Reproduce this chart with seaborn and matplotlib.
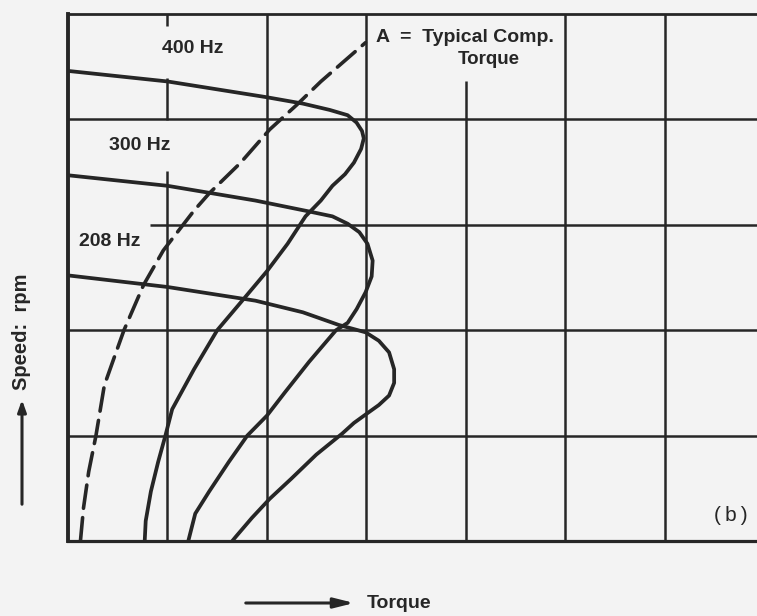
import matplotlib
matplotlib.use("Agg")
import matplotlib.pyplot as plt
import seaborn as sns
import pandas as pd

# Speed-torque curves of an inverter-driven compressor motor (grid units)
torque_400 = [0.0, 1.0, 2.0, 2.36, 2.63, 2.81, 2.90, 2.955, 2.973, 2.946, 2.874,
              2.784, 2.658, 2.541, 2.387, 2.207, 2.0, 1.733, 1.5, 1.267, 1.047,
              0.979, 0.906, 0.833, 0.781, 0.771]
speed_400 = [4.46, 4.36, 4.21, 4.15, 4.09, 4.04, 3.97, 3.89, 3.82, 3.72, 3.59,
             3.48, 3.37, 3.23, 3.08, 2.82, 2.56, 2.26, 2.0, 1.63, 1.25,
             1.0, 0.75, 0.47, 0.19, 0.0]

torque_300 = [0.0, 1.0, 1.884, 2.405, 2.658, 2.811, 2.928, 3.010, 3.062, 3.052,
              2.991, 2.901, 2.811, 2.694, 2.423, 2.180, 2.0, 1.802, 1.616, 1.419,
              1.279, 1.209]
speed_300 = [3.47, 3.37, 3.23, 3.13, 3.08, 3.01, 2.93, 2.82, 2.66, 2.51,
             2.36, 2.20, 2.07, 2.0, 1.70, 1.41, 1.19, 1.0, 0.75, 0.47,
             0.26, 0.0]

torque_200 = [0.0, 1.0, 1.884, 2.360, 2.721, 2.991, 3.124, 3.227, 3.278, 3.278,
              3.227, 3.124, 2.991, 2.874, 2.757, 2.496, 2.243, 2.027, 1.849, 1.686,
              1.651]
speed_200 = [2.52, 2.41, 2.28, 2.17, 2.05, 1.98, 1.90, 1.79, 1.63, 1.50,
             1.38, 1.29, 1.20, 1.12, 1.02, 0.82, 0.59, 0.40, 0.22, 0.04,
             0.0]

# Curve A: typical compressor load torque
torque_a = [0.125, 0.156, 0.208, 0.281, 0.365, 0.458, 0.5625, 0.76, 0.958, 1.267,
            1.419, 1.733, 2.027, 2.297, 2.541, 2.99]
speed_a = [0.0, 0.315, 0.657, 1.0, 1.476, 1.724, 2.0, 2.43, 2.757, 3.135,
           3.298, 3.587, 3.904, 4.136, 4.359, 4.728]

curve_labels = ["400 Hz", "300 Hz", "208 Hz"]
note_line1 = "A  =  Typical Comp."
note_line2 = "Torque"
x_label = "Torque"
y_label = "Speed:  rpm"
panel_tag = "(\u2009b\u2009)"

PAPER = "#f3f3f3"
INK = "#262626"

sns.set_theme(style="white")
plt.rcParams["font.family"] = ["Liberation Sans", "DejaVu Sans"]

fig = plt.figure(figsize=(7.57, 6.16), dpi=100, facecolor=PAPER)
ax = fig.add_axes([68 / 757, 75 / 616, 1 - 68 / 757, (541 - 14) / 616])
ax.set_facecolor(PAPER)

XMAX = 6.925
ax.set_xlim(0, XMAX)
ax.set_ylim(0, 5)

# hand-drawn style grid, broken where labels sit
vsegs = {1: [(0, 3.51), (3.99, 4.39), (4.89, 5)], 2: [(0, 5)], 3: [(0, 5)],
         4: [(0, 4.36)], 5: [(0, 5)], 6: [(0, 5)]}
hsegs = {1: [(0, XMAX)], 2: [(0, XMAX)], 3: [(0.82, XMAX)], 4: [(0, XMAX)]}
for xv, segs in vsegs.items():
    for a, b in segs:
        ax.vlines(xv, a, b, color=INK, lw=1.8, zorder=1)
for yv, segs in hsegs.items():
    for a, b in segs:
        ax.hlines(yv, a, b, color=INK, lw=1.8, zorder=1)

for t, s in [(torque_400, speed_400), (torque_300, speed_300), (torque_200, speed_200)]:
    df = pd.DataFrame({"torque": t, "speed": s})
    sns.lineplot(data=df, x="torque", y="speed", sort=False, estimator=None,
                 color=INK, lw=2.7, ax=ax, zorder=3,
                 solid_joinstyle="round", solid_capstyle="round")

df_a = pd.DataFrame({"torque": torque_a, "speed": speed_a})
sns.lineplot(data=df_a, x="torque", y="speed", sort=False, estimator=None,
             color=INK, lw=2.6, ax=ax, zorder=3, linestyle=(0, (6.5, 2.6)),
             dash_capstyle="round")

for sp in ["left", "bottom", "top"]:
    ax.spines[sp].set_visible(True)
    ax.spines[sp].set_color(INK)
ax.spines["left"].set_linewidth(2.8)
ax.spines["bottom"].set_linewidth(2.3)
ax.spines["top"].set_linewidth(2.0)
ax.spines["right"].set_visible(False)
ax.set_xticks([])
ax.set_yticks([])
ax.set_xlabel("")
ax.set_ylabel("")

bold = dict(color=INK, fontsize=14, fontweight="bold", ha="center", va="center")
ax.text(1.256, 4.67, curve_labels[0], **bold)
ax.text(0.719, 3.75, curve_labels[1], **bold)
ax.text(0.417, 2.84, curve_labels[2], **bold)
ax.text(3.10, 4.777, note_line1, color=INK, fontsize=14, fontweight="bold",
        ha="left", va="center")
ax.text(4.23, 4.573, note_line2, color=INK, fontsize=13.5, fontweight="bold",
        ha="center", va="center")
ax.text(6.66, 0.24, panel_tag, color=INK, fontsize=15, ha="center", va="center")

# axis captions with arrows
fig.text(22 / 757, 1 - 332 / 616, y_label, rotation=90, color=INK, fontsize=14.5,
         fontweight="bold", ha="center", va="center")
fig.add_artist(matplotlib.patches.FancyArrowPatch(
    (22 / 757, 1 - 507 / 616), (22 / 757, 1 - 397 / 616),
    transform=fig.transFigure, arrowstyle="-|>,head_length=7,head_width=2.5",
    color=INK, lw=2.2, mutation_scale=1))
fig.text(367 / 757, 1 - 603 / 616, x_label, color=INK, fontsize=14,
         fontweight="bold", ha="left", va="center")
fig.add_artist(matplotlib.patches.FancyArrowPatch(
    (243 / 757, 1 - 603 / 616), (357 / 757, 1 - 603 / 616),
    transform=fig.transFigure, arrowstyle="-|>,head_length=12,head_width=3",
    color=INK, lw=2.2, mutation_scale=1))

fig.savefig("out.png", dpi=100, facecolor=PAPER)
